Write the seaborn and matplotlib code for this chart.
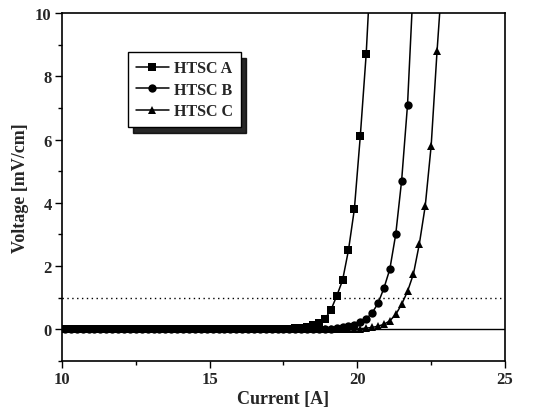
import matplotlib
matplotlib.use("Agg")
import matplotlib.pyplot as plt
import matplotlib.ticker as mticker
import pandas as pd
import seaborn as sns

# current grid [A], shared by the three samples
current = [10.1, 10.3, 10.5, 10.7, 10.9, 11.1, 11.3, 11.5, 11.7, 11.9,
           12.1, 12.3, 12.5, 12.7, 12.9, 13.1, 13.3, 13.5, 13.7, 13.9,
           14.1, 14.3, 14.5, 14.7, 14.9, 15.1, 15.3, 15.5, 15.7, 15.9,
           16.1, 16.3, 16.5, 16.7, 16.9, 17.1, 17.3, 17.5, 17.7, 17.9,
           18.1, 18.3, 18.5, 18.7, 18.9, 19.1, 19.3, 19.5, 19.7, 19.9,
           20.1, 20.3, 20.5, 20.7, 20.9, 21.1, 21.3, 21.5, 21.7, 21.9,
           22.1, 22.3, 22.5, 22.7, 22.9]

# voltage [mV/cm]
volt_a = [0.0, 0.0, 0.0, 0.0, 0.0, 0.0, 0.0, 0.0, 0.0, 0.0,
          0.0, 0.0, 0.0, 0.0, 0.0, 0.0, 0.0, 0.0, 0.0, 0.0,
          0.0, 0.0, 0.0, 0.0, 0.0, 0.0, 0.0, 0.0, 0.0, 0.0,
          0.0, 0.0, 0.0, 0.0, 0.0, 0.0, 0.0, 0.01, 0.02, 0.03,
          0.05, 0.08, 0.13, 0.2, 0.33, 0.6, 1.05, 1.55, 2.5, 3.8,
          6.1, 8.7, 12.3]
volt_b = [0.0, 0.0, 0.0, 0.0, 0.0, 0.0, 0.0, 0.0, 0.0, 0.0,
          0.0, 0.0, 0.0, 0.0, 0.0, 0.0, 0.0, 0.0, 0.0, 0.0,
          0.0, 0.0, 0.0, 0.0, 0.0, 0.0, 0.0, 0.0, 0.0, 0.0,
          0.0, 0.0, 0.0, 0.0, 0.0, 0.0, 0.0, 0.0, 0.0, 0.0,
          0.0, 0.0, 0.0, 0.0, 0.01, 0.02, 0.04, 0.07, 0.1, 0.15,
          0.22, 0.33, 0.52, 0.82, 1.3, 1.9, 3.0, 4.7, 7.1, 11.0]
volt_c = [0.0, 0.0, 0.0, 0.0, 0.0, 0.0, 0.0, 0.0, 0.0, 0.0,
          0.0, 0.0, 0.0, 0.0, 0.0, 0.0, 0.0, 0.0, 0.0, 0.0,
          0.0, 0.0, 0.0, 0.0, 0.0, 0.0, 0.0, 0.0, 0.0, 0.0,
          0.0, 0.0, 0.0, 0.0, 0.0, 0.0, 0.0, 0.0, 0.0, 0.0,
          0.0, 0.0, 0.0, 0.0, 0.0, 0.0, 0.0, 0.0, 0.0, 0.01,
          0.02, 0.04, 0.06, 0.1, 0.16, 0.27, 0.47, 0.79, 1.2, 1.75,
          2.7, 3.9, 5.8, 8.8, 11.5]

samples = ['HTSC A', 'HTSC B', 'HTSC C']
markers = ['s', 'o', '^']
criterion = 1.0  # electric field criterion [mV/cm]

sns.set_theme(style='white')
plt.rcParams['font.family'] = ['Liberation Serif', 'DejaVu Serif']
plt.rcParams['font.weight'] = 'bold'

fig = plt.figure(figsize=(5.47, 4.14), dpi=100)
ax = fig.add_axes([0.1133, 0.1256, 0.8099, 0.8406])

for name, volts, mk in zip(samples, [volt_a, volt_b, volt_c], markers):
    df = pd.DataFrame({'current': current[:len(volts)], 'voltage': volts})
    sns.lineplot(data=df, x='current', y='voltage', ax=ax, color='black', lw=1.1,
                 marker=mk, markersize=5.5 if mk != 'o' else 6, markeredgewidth=0,
                 label=name, sort=False)

ax.axhline(0, color='black', lw=1.0, zorder=1)
ax.axhline(criterion, color='black', lw=1.0, ls=(0, (1, 2.5)), zorder=1)

ax.set_xlim(10, 25)
ax.set_ylim(-1, 10)
ax.xaxis.set_major_locator(mticker.MultipleLocator(5))
ax.xaxis.set_minor_locator(mticker.MultipleLocator(2.5))
ax.yaxis.set_major_locator(mticker.MultipleLocator(2))
ax.yaxis.set_minor_locator(mticker.MultipleLocator(1))
ax.tick_params(which='both', direction='out', left=True, bottom=True, top=False, right=False,
               labelsize=12, width=1, color='black', pad=2.5)
ax.tick_params(which='major', length=5)
ax.tick_params(which='minor', length=3)
for lab in ax.get_xticklabels() + ax.get_yticklabels():
    lab.set_fontweight('bold')

for sp in ax.spines.values():
    sp.set_color('black')
    sp.set_linewidth(1.2)

ax.set_xlabel('Current [A]', fontsize=13, fontweight='bold', labelpad=2)
ax.set_ylabel('Voltage [mV/cm]', fontsize=13, fontweight='bold', labelpad=4)

leg = ax.legend(loc='upper left', bbox_to_anchor=(0.13, 0.91), frameon=True, fancybox=False,
                shadow={'color': 'black', 'alpha': 0.85, 'ox': 4, 'oy': -4},
                edgecolor='black', framealpha=1, handlelength=2.1, handletextpad=0.3,
                labelspacing=0.35, borderpad=0.5, prop={'weight': 'bold', 'size': 11.5})
leg.get_frame().set_linewidth(1.0)

fig.savefig('out.png', dpi=100)
